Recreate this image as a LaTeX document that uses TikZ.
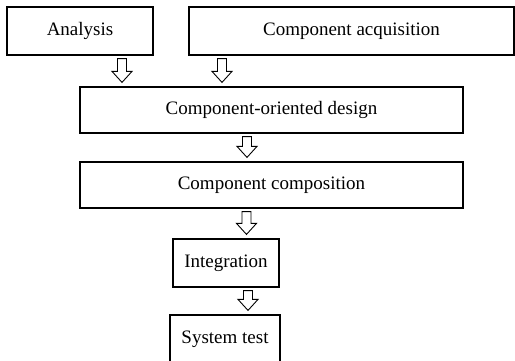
\documentclass[tikz,border=0pt]{standalone}
\usepackage{fontspec}
\setmainfont{Liberation Serif}
\usetikzlibrary{calc}

\begin{document}
\begin{tikzpicture}[x=1pt,y=1pt,
    box/.style={draw,line width=1.2pt,inner sep=0pt,
      font=\fontsize{19}{22}\selectfont},
    hollow/.style={draw,line width=0.9pt,fill=white,line join=miter}]
    \useasboundingbox (0,0) rectangle (515,360);
    \node[box,minimum width=146,minimum height=48] (analysis) at (80,329) {Analysis};
    \node[box,minimum width=325,minimum height=48] (acquisition) at (351.5,329) {Component acquisition};
    \node[box,minimum width=383,minimum height=46] (design) at (271.5,250) {Component-oriented design};
    \node[box,minimum width=383,minimum height=46] (composition) at (271.5,175) {Component composition};
    \node[box,minimum width=106,minimum height=48] (integration) at (226,97) {Integration};
    \node[box,minimum width=110,minimum height=48] (systest) at (225,21) {System test};
    % hollow block arrows between the boxes
    \foreach \ax/\from/\to in {122/analysis/design, 222/acquisition/design,
        247/design/composition, 246.5/composition/integration, 248/integration/systest}
      \draw[hollow] let \p1=(\from.south), \p2=(\to.north) in
        (\ax pt-4.5pt,\y1-3pt) -- (\ax pt+4.5pt,\y1-3pt) -- (\ax pt+4.5pt,\y2+15pt)
        -- (\ax pt+10pt,\y2+15pt) -- (\ax pt,\y2+4pt) -- (\ax pt-10pt,\y2+15pt)
        -- (\ax pt-4.5pt,\y2+15pt) -- cycle;
  \end{tikzpicture}
\end{document}
